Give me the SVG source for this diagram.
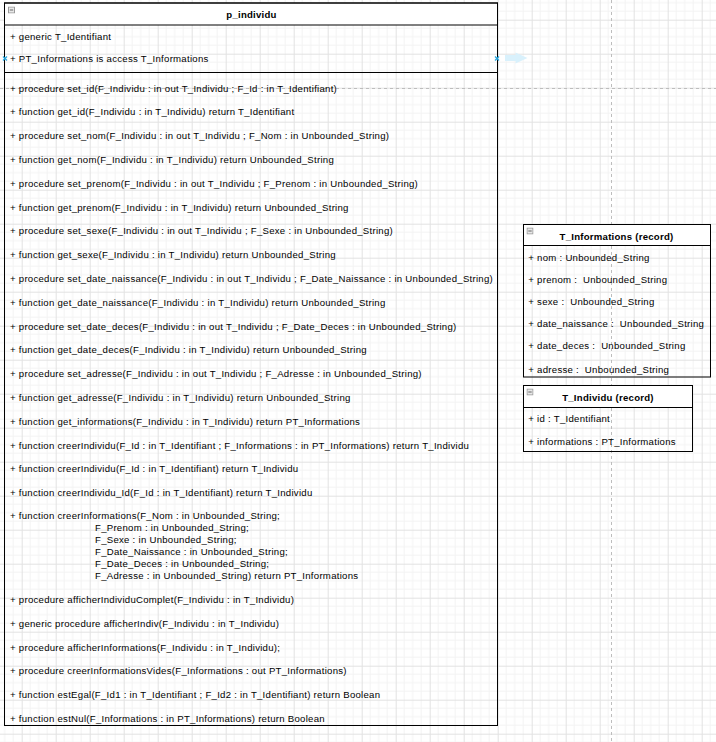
<svg xmlns="http://www.w3.org/2000/svg" width="716" height="742" viewBox="0 0 716 742">
<defs>
<pattern id="grid" width="34" height="34" patternUnits="userSpaceOnUse" x="21.7" y="19.7">
<path d="M8.5 0V34M17 0V34M25.5 0V34M0 8.5H34M0 17H34M0 25.5H34" stroke="#f3f3f3" stroke-width="1" fill="none"/>
<path d="M0.5 0V34M0 0.5H34" stroke="#e2e2e2" stroke-width="1" fill="none"/>
</pattern>
<symbol id="collapse" viewBox="0 0 7 7">
<rect x="0.5" y="0.5" width="6" height="6" fill="#e8e8e8" stroke="#999"/>
<path d="M1.8 3.5H5.2" stroke="#666" stroke-width="1"/>
</symbol>
</defs>
<style>
text{font-family:"Liberation Sans",Arial,sans-serif;font-size:9.6px;letter-spacing:0.27px;fill:#000;white-space:pre}
.t{font-weight:bold;text-anchor:middle;letter-spacing:0.25px}
.box{fill:none;stroke:#000;stroke-width:1}
.hdr{fill:#fff;stroke:#000;stroke-width:1}
.pb{stroke:#bdbdbd;stroke-width:1;stroke-dasharray:3 3;fill:none}
</style>
<rect width="716" height="742" fill="#fff"/>
<rect width="716" height="742" fill="url(#grid)"/>
<path class="pb" d="M611.5 0V742"/>
<path class="pb" d="M0 88.5H716"/>

<g id="p_individu">
<rect class="hdr" x="4.5" y="3" width="493" height="22"/>
<rect class="box" x="4.5" y="3" width="493" height="722.5"/>
<path d="M4.5 72.5H497.5" stroke="#000" stroke-width="1"/>
<use href="#collapse" x="8" y="6.5" width="7" height="7"/>
<text class="t" x="251.5" y="18.3">p_individu</text>
<text x="10" y="40">+ generic T_Identifiant</text>
<text x="10" y="62">+ PT_Informations is access T_Informations</text>
<text x="10" y="91.6">+ procedure set_id(F_Individu : in out T_Individu ; F_Id : in T_Identifiant)</text>
<text x="10" y="115.4">+ function get_id(F_Individu : in T_Individu) return T_Identifiant</text>
<text x="10" y="139.2">+ procedure set_nom(F_Individu : in out T_Individu ; F_Nom : in Unbounded_String)</text>
<text x="10" y="163">+ function get_nom(F_Individu : in T_Individu) return Unbounded_String</text>
<text x="10" y="186.8">+ procedure set_prenom(F_Individu : in out T_Individu ; F_Prenom : in Unbounded_String)</text>
<text x="10" y="210.6">+ function get_prenom(F_Individu : in T_Individu) return Unbounded_String</text>
<text x="10" y="234.4">+ procedure set_sexe(F_Individu : in out T_Individu ; F_Sexe : in Unbounded_String)</text>
<text x="10" y="258.2">+ function get_sexe(F_Individu : in T_Individu) return Unbounded_String</text>
<text x="10" y="282" textLength="483" lengthAdjust="spacing">+ procedure set_date_naissance(F_Individu : in out T_Individu ; F_Date_Naissance : in Unbounded_String)</text>
<text x="10" y="305.8">+ function get_date_naissance(F_Individu : in T_Individu) return Unbounded_String</text>
<text x="10" y="329.6">+ procedure set_date_deces(F_Individu : in out T_Individu ; F_Date_Deces : in Unbounded_String)</text>
<text x="10" y="353.4">+ function get_date_deces(F_Individu : in T_Individu) return Unbounded_String</text>
<text x="10" y="377.2">+ procedure set_adresse(F_Individu : in out T_Individu ; F_Adresse : in Unbounded_String)</text>
<text x="10" y="401">+ function get_adresse(F_Individu : in T_Individu) return Unbounded_String</text>
<text x="10" y="424.8">+ function get_informations(F_Individu : in T_Individu) return PT_Informations</text>
<text x="10" y="448.6">+ function creerIndividu(F_Id : in T_Identifiant ; F_Informations : in PT_Informations) return T_Individu</text>
<text x="10" y="472.4">+ function creerIndividu(F_Id : in T_Identifiant) return T_Individu</text>
<text x="10" y="496.2">+ function creerIndividu_Id(F_Id : in T_Identifiant) return T_Individu</text>
<text x="10" y="519">+ function creerInformations(F_Nom : in Unbounded_String;</text>
<text x="95" y="531">F_Prenom : in Unbounded_String;</text>
<text x="95" y="543.1">F_Sexe : in Unbounded_String;</text>
<text x="95" y="555.2">F_Date_Naissance : in Unbounded_String;</text>
<text x="95" y="567.3">F_Date_Deces : in Unbounded_String;</text>
<text x="95" y="579.4">F_Adresse : in Unbounded_String) return PT_Informations</text>
<text x="10" y="603.3">+ procedure afficherIndividuComplet(F_Individu : in T_Individu)</text>
<text x="10" y="626.9">+ generic procedure afficherIndiv(F_Individu : in T_Individu)</text>
<text x="10" y="650.5">+ procedure afficherInformations(F_Individu : in T_Individu);</text>
<text x="10" y="674.3">+ procedure creerInformationsVides(F_Informations : out PT_Informations)</text>
<text x="10" y="698.2">+ function estEgal(F_Id1 : in T_Identifiant ; F_Id2 : in T_Identifiant) return Boolean</text>
<text x="10" y="721.6">+ function estNul(F_Informations : in PT_Informations) return Boolean</text>
</g>

<g id="T_Informations">
<rect class="hdr" x="523.5" y="224.5" width="187" height="21"/>
<rect class="box" x="523.5" y="224.5" width="187" height="152.5"/>
<use href="#collapse" x="526.5" y="227.5" width="7" height="7"/>
<text class="t" x="616.5" y="239.5">T_Informations (record)</text>
<text x="528.3" y="261">+ nom : Unbounded_String</text>
<text x="528.3" y="283">+ prenom :  Unbounded_String</text>
<text x="528.3" y="305">+ sexe :  Unbounded_String</text>
<text x="528.3" y="327">+ date_naissance :  Unbounded_String</text>
<text x="528.3" y="349">+ date_deces :  Unbounded_String</text>
<text x="528.3" y="372.6">+ adresse :  Unbounded_String</text>
</g>

<g id="T_Individu">
<rect class="hdr" x="523.5" y="385.5" width="169" height="22"/>
<rect class="box" x="523.5" y="385.5" width="169" height="66"/>
<use href="#collapse" x="526.5" y="388.5" width="7" height="7"/>
<text class="t" x="608" y="400.6">T_Individu (record)</text>
<text x="528.3" y="421.6">+ id : T_Identifiant</text>
<text x="528.3" y="445.3">+ informations : PT_Informations</text>
</g>

<g id="connectors">
<path d="M505 55H515.5V52.5L527.5 58L515.5 63.5V61H505Z" fill="#d9f1fc"/>
<path d="M3 56.5L7 60.5M7 56.5L3 60.5" stroke="#29a8e0" stroke-width="1.3"/>
<path d="M495 56.5L499 60.5M499 56.5L495 60.5" stroke="#29a8e0" stroke-width="1.3"/>
</g>
</svg>
